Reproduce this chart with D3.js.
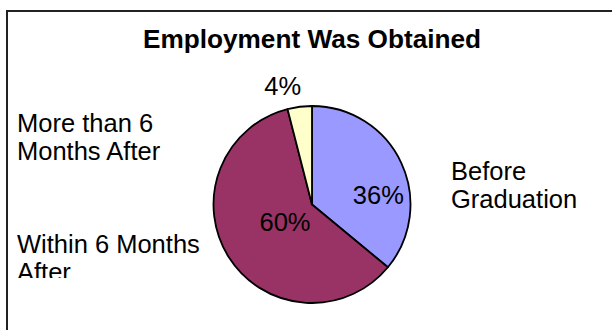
<!DOCTYPE html>
<html>
<head>
<meta charset="utf-8">
<script src="https://cdn.jsdelivr.net/npm/d3@7"></script>
<style>
  html, body { margin: 0; padding: 0; background: #fff; }
  svg { display: block; font-family: Arial, "Liberation Sans", sans-serif; }
</style>
</head>
<body>
<div id="chart"></div>
<script>
// chart data
const categories = ['Before Graduation', 'Within 6 Months After', 'More than 6 Months After'];
const values = [36, 60, 4];
const colors = ['#9999FF', '#993366', '#FFFFCC'];
const titleText = 'Employment Was Obtained';

// category name labels, split in lines as in the picture
const nameLines = [['Before', 'Graduation'], ['Within 6 Months', 'After'], ['More than 6', 'Months After']];

const width = 612, height = 330;
const cx = 312, cy = 204.5, radius = 98.5;

const svg = d3.select('#chart').append('svg')
  .attr('width', width).attr('height', height);

// chart area frame (runs off the right and bottom of the picture)
svg.append('rect')
  .attr('x', 7).attr('y', 11)
  .attr('width', 700).attr('height', 400)
  .attr('fill', '#fff')
  .attr('stroke', '#222')
  .attr('stroke-width', 2);

svg.append('text')
  .attr('x', cx).attr('y', 48)
  .attr('text-anchor', 'middle')
  .attr('font-size', 26.2)
  .attr('font-weight', 'bold')
  .text(titleText);

const pie = d3.pie().sort(null).value(d => d);
const arcs = pie(values);
const arc = d3.arc().innerRadius(0).outerRadius(radius);

const g = svg.append('g').attr('transform', `translate(${cx},${cy})`);

g.selectAll('path.slice')
  .data(arcs)
  .enter().append('path')
  .attr('class', 'slice')
  .attr('d', arc)
  .attr('fill', (d, i) => colors[i])
  .attr('stroke', '#000')
  .attr('stroke-width', 1.8)
  .attr('stroke-linejoin', 'round');

// value labels: centroid of a label arc, then nudged like Excel does
const labelArc = [
  d3.arc().innerRadius(70).outerRadius(70),
  d3.arc().innerRadius(32).outerRadius(32),
  d3.arc().innerRadius(122).outerRadius(122)
];
const nudge = [[3, 20], [0, 0], [-14, 2]];
const fmt = d3.format('.0f');

g.selectAll('text.val')
  .data(arcs)
  .enter().append('text')
  .attr('class', 'val')
  .attr('x', (d, i) => labelArc[i].centroid(d)[0] + nudge[i][0])
  .attr('y', (d, i) => labelArc[i].centroid(d)[1] + nudge[i][1])
  .attr('dy', '0.36em')
  .attr('text-anchor', 'middle')
  .attr('font-size', 25.5)
  .text(d => fmt(d.value) + '%');

// category name labels
const namePos = [[451, 180], [17, 253.3], [17, 131.7]];
const lineH = 27.8;

svg.append('clipPath').attr('id', 'labelClip')
  .append('rect').attr('x', 0).attr('y', 0).attr('width', width).attr('height', 278);

const names = svg.append('g').attr('clip-path', 'url(#labelClip)');
categories.forEach((c, i) => {
  const t = names.append('text')
    .attr('x', namePos[i][0]).attr('y', namePos[i][1])
    .attr('font-size', 25.5);
  nameLines[i].forEach((ln, j) => {
    t.append('tspan')
      .attr('x', namePos[i][0])
      .attr('dy', j === 0 ? 0 : lineH)
      .text(ln);
  });
});
</script>
</body>
</html>
